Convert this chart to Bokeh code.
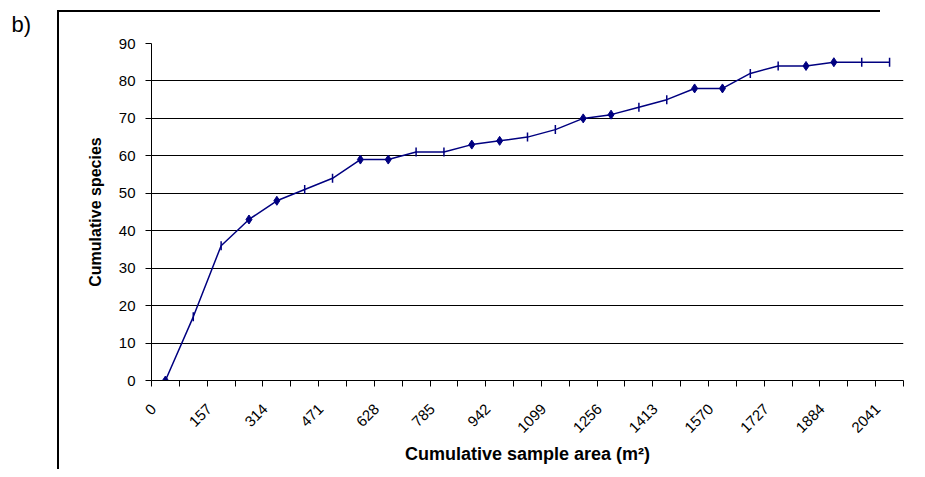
import math
from bokeh.plotting import figure
from bokeh.models import FixedTicker, Range1d, ColumnDataSource
from bokeh.embed import file_html
from bokeh.resources import INLINE

# ---- data ----
sample_index = list(range(27))  # category positions (each 78.5 m2)
species = [0, 17, 36, 43, 48, 51, 54, 59, 59, 61, 61, 63, 64, 65, 67,
           70, 71, 73, 75, 78, 78, 82, 84, 84, 85, 85, 85]
area_labels = ["0", "157", "314", "471", "628", "785", "942", "1099",
               "1256", "1413", "1570", "1727", "1884", "2041"]
y_ticks = [0, 10, 20, 30, 40, 50, 60, 70, 80, 90]

FONT = "Liberation Sans"
NAVY = "#000080"

p = figure(width=917, height=469, output_backend="svg", toolbar_location=None,
           x_range=Range1d(-0.5, 26.5), y_range=Range1d(0, 90),
           min_border_left=151, min_border_right=14, min_border_top=43,
           min_border_bottom=89)
p.outline_line_color = None
p.background_fill_color = "white"
p.border_fill_color = None
# outer chart frame (cut off at right and bottom), drawn as the host's background
p.styles = {
    "background-color": "white",
    "background-image": "linear-gradient(black, black), linear-gradient(black, black)",
    "background-size": "2px 460px, 823px 2px",
    "background-position": "57px 10px, 57px 10px",
    "background-repeat": "no-repeat, no-repeat",
    "overflow": "hidden",
}

# panel letter as the figure title
p.title.text = "b)"
p.title.align = "left"
p.title.offset = -140
p.title.text_font = FONT
p.title.text_font_size = "22px"
p.title.text_font_style = "normal"
p.title.text_color = "black"
p.title.standoff = 14

# line + markers
src = ColumnDataSource(dict(x=sample_index, y=species))
p.line("x", "y", source=src, line_color=NAVY, line_width=1.5)
dia_x = [i for i in sample_index if i % 4 in (0, 3)]
dia_y = [species[i] for i in dia_x]
dash_x = [i for i in sample_index if i % 4 in (1, 2)]
dash_y = [species[i] for i in dash_x]
p.scatter(dia_x, dia_y, marker="diamond", size=9, fill_color=NAVY, line_color=NAVY)
p.scatter(dash_x, dash_y, marker="dash", size=9, angle=math.pi / 2,
          line_color=NAVY, line_width=1.5)

# x axis: category boundaries as minor ticks, labels every other category
shift = 0.42
label_pos = [i - shift for i in sample_index[::2]]
p.xaxis.ticker = FixedTicker(ticks=label_pos,
                             minor_ticks=[i - 0.5 for i in sample_index] + [26.5])
p.xaxis.major_label_overrides = {pos: lab for pos, lab in zip(label_pos, area_labels)}
p.xaxis.major_tick_line_color = None
p.xaxis.minor_tick_line_color = "black"
p.xaxis.minor_tick_out = 6
p.xaxis.minor_tick_in = 0
p.xaxis.major_label_orientation = math.pi / 4
p.xaxis.major_label_text_font = FONT
p.xaxis.major_label_text_font_size = "15px"
p.xaxis.major_label_text_color = "black"
p.xaxis.major_label_standoff = 20
p.xaxis.axis_line_color = "black"
p.xaxis.axis_label = "Cumulative sample area (m²)"
p.xaxis.axis_label_text_font = FONT
p.xaxis.axis_label_text_font_style = "bold"
p.xaxis.axis_label_text_font_size = "18px"
p.xaxis.axis_label_text_color = "black"
p.xaxis.axis_label_standoff = 4

# y axis
p.yaxis.ticker = FixedTicker(ticks=y_ticks, minor_ticks=[])
p.yaxis.major_tick_out = 6
p.yaxis.major_tick_in = 0
p.yaxis.major_tick_line_color = "black"
p.yaxis.axis_line_color = "black"
p.yaxis.major_label_text_font = FONT
p.yaxis.major_label_text_font_size = "15px"
p.yaxis.major_label_text_color = "black"
p.yaxis.major_label_standoff = 10
p.yaxis.axis_label = "Cumulative species"
p.yaxis.axis_label_text_font = FONT
p.yaxis.axis_label_text_font_style = "bold"
p.yaxis.axis_label_text_font_size = "16px"
p.yaxis.axis_label_text_color = "black"
p.yaxis.axis_label_standoff = 12

p.xgrid.grid_line_color = None
p.ygrid.grid_line_color = "black"
p.ygrid.grid_line_width = 1

open("out.html", "w").write(file_html(p, INLINE))
